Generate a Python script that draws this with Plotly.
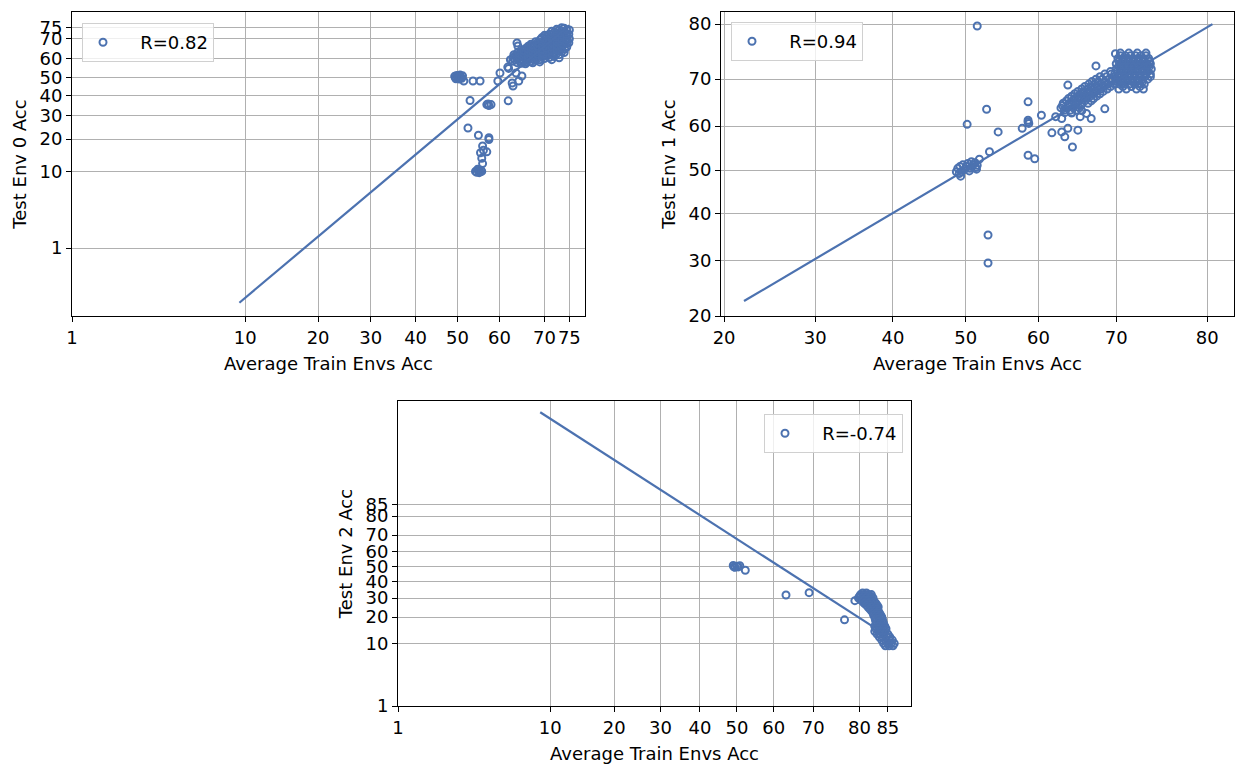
import plotly.graph_objects as go
from statistics import NormalDist

# ---------------- data (percent values) ----------------
# Test Env 0 : (average train envs acc, test env 0 acc)
env0_pts = [
    (49.3, 50.5), (49.6, 49.2), (49.8, 51.0), (50.0, 49.8), (50.2, 50.6), (50.4, 49.0),
    (50.6, 51.2), (50.8, 50.0), (51.0, 49.5), (51.2, 50.8), (49.5, 49.8), (50.5, 50.2),
    (51.5, 48.0), (53.7, 48.0), (55.4, 48.0), (53.0, 37.6), (57.0, 35.5), (57.5, 35.0),
    (58.0, 35.5), (57.3, 35.8), (62.0, 37.4), (52.5, 24.5), (55.0, 21.5), (57.5, 20.5),
    (57.5, 19.8), (56.0, 17.5), (56.2, 16.0), (55.8, 13.5), (56.0, 12.0), (57.0, 15.5),
    (55.5, 15.2), (54.3, 10.0), (54.6, 9.8), (55.0, 10.2), (55.3, 9.9), (55.6, 10.3),
    (54.8, 10.5), (55.2, 9.7), (55.8, 10.0), (60.1, 52.3), (59.6, 48.0), (61.9, 55.5),
    (62.1, 54.8), (62.9, 46.9), (63.1, 45.3), (63.8, 52.3), (64.4, 48.0), (65.1, 50.7),
    (64.0, 68.0), (64.2, 66.5), (65.9, 57.3), (67.5, 57.8), (69.0, 58.3), (71.5, 59.5),
    (73.0, 60.5), (62.5, 59.5),
    (63.0, 58.6), (63.1, 60.4), (63.3, 62.1),
    (64.0, 57.9), (64.1, 60.1), (63.9, 61.8), (64.2, 63.4),
    (65.0, 57.6), (65.1, 59.4), (64.9, 61.5), (65.2, 63.1), (65.0, 64.6),
    (66.0, 58.1), (66.1, 60.0), (65.9, 62.0), (66.2, 63.9), (66.0, 65.4),
    (67.0, 58.4), (67.1, 60.6), (66.9, 62.4), (67.2, 64.6), (67.0, 66.1), (67.1, 67.4),
    (68.0, 59.1), (68.1, 61.0), (67.9, 63.1), (68.2, 65.0), (68.0, 67.1), (68.1, 68.6),
    (69.0, 59.4), (69.1, 61.6), (68.9, 63.4), (69.2, 65.6), (69.0, 67.4), (69.1, 69.6),
    (70.0, 60.1), (70.1, 62.0), (69.9, 64.1), (70.2, 66.0), (70.0, 68.1), (70.1, 70.0), (70.0, 71.6),
    (71.0, 60.6), (71.1, 62.6), (70.9, 64.4), (71.2, 66.6), (71.0, 68.4), (71.1, 70.6), (71.0, 72.1),
    (72.0, 61.1), (72.1, 63.0), (71.9, 65.1), (72.2, 67.0), (72.0, 69.1), (72.1, 71.0), (72.0, 73.1),
    (73.0, 62.1), (73.1, 64.0), (72.9, 66.1), (73.2, 68.0), (73.0, 70.1), (73.1, 72.0), (73.0, 74.1),
    (74.0, 63.2), (74.1, 65.0), (73.9, 67.1), (74.2, 69.0), (74.0, 71.1), (74.1, 73.0), (74.0, 74.8),
    (74.9, 68.1), (75.0, 70.0), (74.9, 72.1), (75.0, 74.0),
    (63.5, 59.5), (63.5, 61.3),
    (64.5, 58.8), (64.5, 61.0), (64.5, 62.6),
    (65.5, 58.5), (65.5, 60.7), (65.5, 62.6), (65.5, 64.2),
    (66.5, 59.2), (66.5, 61.2), (66.5, 63.2), (66.5, 65.0), (66.5, 66.4),
    (67.5, 59.6), (67.5, 61.6), (67.5, 63.6), (67.5, 65.6), (67.5, 67.0),
    (68.5, 60.1), (68.5, 62.2), (68.5, 64.2), (68.5, 66.2), (68.5, 68.1),
    (69.5, 60.8), (69.5, 62.8), (69.5, 64.8), (69.5, 66.7), (69.5, 68.6), (69.5, 70.6),
    (70.5, 61.3), (70.5, 63.3), (70.5, 65.3), (70.5, 67.3), (70.5, 69.3), (70.5, 71.3),
    (71.5, 62.0), (71.5, 64.0), (71.5, 66.0), (71.5, 68.0), (71.5, 70.0), (71.5, 72.0), (71.5, 73.5),
    (72.5, 62.6), (72.5, 64.6), (72.5, 66.6), (72.5, 68.6), (72.5, 70.6), (72.5, 72.6), (72.5, 74.3),
    (73.5, 63.6), (73.5, 65.6), (73.5, 67.6), (73.5, 69.6), (73.5, 71.6), (73.5, 73.6), (73.5, 75.0),
    (74.5, 66.0), (74.5, 68.0), (74.5, 70.0), (74.5, 72.0), (74.5, 74.0),
]

# Test Env 1
env1_pts = [
    (48.9, 50.4), (49.2, 50.8), (49.4, 49.6), (49.3, 48.6), (49.6, 51.2), (49.9, 50.2),
    (50.1, 50.9), (50.3, 51.5), (50.6, 50.4), (50.8, 51.9), (51.0, 51.2), (51.3, 51.7),
    (51.5, 50.2), (51.9, 52.5), (48.7, 49.6), (49.1, 49.2), (50.5, 49.8), (50.9, 50.8),
    (51.4, 50.6), (51.6, 51.1), (53.3, 54.2),
    (51.6, 79.7), (50.2, 60.4), (52.9, 63.7), (54.5, 58.7), (53.1, 35.4), (53.1, 29.6),
    (58.6, 65.3), (58.6, 61.3), (58.6, 60.9), (58.7, 60.6), (57.8, 59.5), (60.4, 62.4),
    (58.6, 53.4), (59.5, 52.6), (61.8, 58.5), (63.1, 58.7), (63.5, 57.6), (63.9, 59.5),
    (65.2, 59.1), (64.5, 55.3), (62.3, 62.1), (63.1, 61.7), (64.4, 62.9), (65.5, 62.1),
    (65.7, 63.4), (66.3, 62.8), (66.9, 61.7), (63.9, 68.8), (67.5, 72.6), (69.9, 74.9),
    (68.6, 63.8),
    (69.3, 71.5),
    (68.6, 71.0), (69.4, 71.0),
    (67.5, 70.0), (68.3, 70.0), (69.1, 70.0),
    (66.6, 69.0), (67.4, 69.0), (68.2, 69.0), (69.0, 69.0),
    (65.7, 68.0), (66.5, 68.0), (67.3, 68.0), (68.1, 68.0), (68.9, 68.0),
    (64.8, 67.0), (65.6, 67.0), (66.4, 67.0), (67.2, 67.0), (68.0, 67.0),
    (64.0, 66.0), (64.8, 66.0), (65.6, 66.0), (66.4, 66.0), (67.2, 66.0),
    (63.3, 65.0), (64.1, 65.0), (64.9, 65.0), (65.7, 65.0), (66.5, 65.0),
    (63.0, 64.0), (63.8, 64.0), (64.6, 64.0), (65.4, 64.0),
    (63.5, 63.0), (64.4, 63.0),
    (68.0, 70.5), (68.8, 70.5),
    (67.0, 69.5), (67.8, 69.5), (68.6, 69.5), (69.4, 69.5),
    (66.1, 68.5), (66.9, 68.5), (67.7, 68.5), (68.5, 68.5), (69.3, 68.5),
    (65.2, 67.5), (66.0, 67.5), (66.8, 67.5), (67.6, 67.5), (68.4, 67.5),
    (64.4, 66.5), (65.2, 66.5), (66.0, 66.5), (66.8, 66.5), (67.6, 66.5),
    (63.7, 65.5), (64.5, 65.5), (65.3, 65.5), (66.1, 65.5), (66.9, 65.5),
    (63.2, 64.5), (64.0, 64.5), (64.8, 64.5), (65.6, 64.5),
    (63.4, 63.5), (64.2, 63.5), (65.0, 63.5),
    (70.5, 75.0), (71.5, 75.0), (72.5, 75.0), (73.5, 75.0),
    (70.2, 74.0), (70.8, 74.0), (71.4, 74.0), (72.0, 74.0), (72.6, 74.0), (73.2, 74.0), (73.8, 74.0),
    (70.0, 73.0), (70.6, 73.0), (71.2, 73.0), (71.8, 73.0), (72.4, 73.0), (73.0, 73.0), (73.6, 73.0), (74.0, 73.0),
    (70.0, 72.0), (70.6, 72.0), (71.2, 72.0), (71.8, 72.0), (72.4, 72.0), (73.0, 72.0), (73.6, 72.0), (74.1, 72.0),
    (69.8, 71.0), (70.4, 71.0), (71.0, 71.0), (71.6, 71.0), (72.2, 71.0), (72.8, 71.0), (73.4, 71.0), (74.0, 71.0),
    (69.5, 70.0), (70.1, 70.0), (70.7, 70.0), (71.3, 70.0), (71.9, 70.0), (72.5, 70.0), (73.1, 70.0), (73.7, 70.0),
    (69.8, 69.0), (70.4, 69.0), (71.0, 69.0), (71.6, 69.0), (72.2, 69.0), (72.8, 69.0), (73.3, 69.0),
    (70.3, 68.0), (71.2, 68.0), (72.4, 68.0), (73.2, 68.0),
    (70.5, 74.5), (71.1, 74.5), (71.7, 74.5), (72.3, 74.5), (72.9, 74.5), (73.5, 74.5),
    (70.3, 73.5), (70.9, 73.5), (71.5, 73.5), (72.1, 73.5), (72.7, 73.5), (73.3, 73.5), (73.9, 73.5),
    (70.3, 72.5), (70.9, 72.5), (71.5, 72.5), (72.1, 72.5), (72.7, 72.5), (73.3, 72.5), (73.9, 72.5),
    (70.1, 71.5), (70.7, 71.5), (71.3, 71.5), (71.9, 71.5), (72.5, 71.5), (73.1, 71.5), (73.7, 71.5),
    (69.8, 70.5), (70.4, 70.5), (71.0, 70.5), (71.6, 70.5), (72.2, 70.5), (72.8, 70.5), (73.4, 70.5), (74.0, 70.5),
    (70.1, 69.5), (70.7, 69.5), (71.3, 69.5), (71.9, 69.5), (72.5, 69.5), (73.1, 69.5),
    (70.8, 68.5), (71.8, 68.5), (72.8, 68.5),
]

# Test Env 2
env2_pts = [
    (49.0, 50.7), (49.5, 49.5), (50.0, 50.3), (50.4, 49.8), (50.8, 50.6), (49.2, 49.8),
    (52.3, 47.6), (63.2, 31.8), (69.0, 33.2), (77.0, 18.7), (79.1, 28.5),
    (80.6, 33.0), (81.3, 33.0),
    (80.2, 32.0), (80.9, 32.0), (81.6, 32.0), (82.2, 32.0),
    (80.0, 31.0), (80.7, 31.0), (81.4, 31.0), (82.1, 31.0),
    (79.8, 30.0), (80.5, 30.0), (81.2, 30.0), (81.9, 30.0), (82.5, 30.0),
    (80.2, 29.0), (80.9, 29.0), (81.6, 29.0), (82.3, 29.0),
    (80.6, 28.0), (81.3, 28.0), (82.0, 28.0), (82.7, 28.0),
    (80.9, 27.0), (81.6, 27.0), (82.3, 27.0), (83.0, 27.0),
    (81.3, 26.0), (82.0, 26.0), (82.7, 26.0), (83.2, 26.0),
    (81.6, 25.0), (82.3, 25.0), (83.0, 25.0), (83.4, 25.0),
    (81.9, 24.0), (82.6, 24.0), (83.2, 24.0),
    (82.2, 23.0), (82.8, 23.0), (83.4, 23.0),
    (82.5, 22.0), (83.1, 22.0), (83.6, 22.0),
    (82.6, 21.0), (83.2, 21.0), (83.8, 21.0),
    (82.8, 20.0), (83.4, 20.0), (84.0, 20.0),
    (82.9, 19.0), (83.5, 19.0), (84.1, 19.0),
    (83.0, 18.0), (83.6, 18.0), (84.2, 18.0),
    (83.1, 17.0), (83.7, 17.0), (84.3, 17.0),
    (82.8, 16.0), (83.4, 16.0), (84.0, 16.0), (84.5, 16.0),
    (83.0, 15.0), (83.6, 15.0), (84.2, 15.0), (84.7, 15.0),
    (82.8, 14.0), (83.4, 14.0), (84.0, 14.0), (84.6, 14.0),
    (83.2, 13.0), (83.8, 13.0), (84.4, 13.0), (85.0, 13.0),
    (83.6, 12.0), (84.2, 12.0), (84.8, 12.0), (85.3, 12.0),
    (84.0, 11.0), (84.6, 11.0), (85.2, 11.0), (85.7, 11.0),
    (84.3, 10.0), (84.9, 10.0), (85.5, 10.0), (86.0, 10.0),
    (84.6, 9.3), (85.2, 9.3), (85.8, 9.3),
]

# regression lines (train acc, test acc) at the two ends
env0_fit_train = [9.4, 75.0]
env0_fit_test = [0.107, 76.0]
env1_fit_train = [22.0, 80.5]
env1_fit_test = [22.5, 80.0]
env2_fit_train = [8.85, 82.7]
env2_fit_test = [99.5, 15.5]

labels = ["R=0.82", "R=0.94", "R=-0.74"]
y_titles = ["Test Env 0 Acc", "Test Env 1 Acc", "Test Env 2 Acc"]
x_title = "Average Train Envs Acc"

env0_ticks = [1, 10, 20, 30, 40, 50, 60, 70, 75]
env1_ticks = [20, 30, 40, 50, 60, 70, 80]
env2_ticks = [1, 10, 20, 30, 40, 50, 60, 70, 80, 85]

env0_xlim, env0_ylim = [1.0, 77.9], [0.0575, 81.3]
env1_xlim, env1_ylim = [19.7, 82.5], [20.0, 81.9]
env2_xlim, env2_ylim = [1.0, 88.4], [1.0, 99.714]

# ---------------- figure ----------------
nd = NormalDist()


def pr(v):
    return nd.inv_cdf(v / 100.0)


BLUE = "#4c72b0"
FONT = "DejaVu Sans"
FS = 18
W, H = 1236, 764

panels = [
    dict(pts=env0_pts, fx=env0_fit_train, fy=env0_fit_test, ticks=env0_ticks,
         xlim=env0_xlim, ylim=env0_ylim, box=(72, 585, 12, 316),
         leg=dict(x=82 / W, y=1 - 23 / H, xanchor="left")),
    dict(pts=env1_pts, fx=env1_fit_train, fy=env1_fit_test, ticks=env1_ticks,
         xlim=env1_xlim, ylim=env1_ylim, box=(721, 1234, 12, 316),
         leg=dict(x=731 / W, y=1 - 22 / H, xanchor="left")),
    dict(pts=env2_pts, fx=env2_fit_train, fy=env2_fit_test, ticks=env2_ticks,
         xlim=env2_xlim, ylim=env2_ylim, box=(398, 911, 401, 706),
         leg=dict(x=903 / W, y=1 - 414 / H, xanchor="right")),
]

fig = go.Figure()
layout = dict(
    width=W, height=H, margin=dict(l=0, r=0, t=0, b=0),
    paper_bgcolor="white", plot_bgcolor="white",
    font=dict(family=FONT, size=FS, color="black"),
    showlegend=True,
)

for i, p in enumerate(panels):
    n = "" if i == 0 else str(i + 1)
    legname = "legend" if i == 0 else "legend" + str(i + 1)
    xs = [pr(a) for a, b in p["pts"]]
    ys = [pr(b) for a, b in p["pts"]]
    fig.add_trace(go.Scatter(
        x=xs, y=ys, mode="markers", xaxis="x" + n, yaxis="y" + n,
        name="\u00a0\u00a0\u00a0" + labels[i], legend=legname,
        marker=dict(symbol="circle-open", size=7, color=BLUE, line=dict(width=2.0)),
    ))
    fig.add_trace(go.Scatter(
        x=[pr(v) for v in p["fx"]], y=[pr(v) for v in p["fy"]], mode="lines",
        xaxis="x" + n, yaxis="y" + n, showlegend=False, hoverinfo="skip",
        line=dict(color=BLUE, width=2.2),
    ))
    x0, x1, y0, y1 = p["box"]
    common = dict(
        showgrid=True, gridcolor="#b0b0b0", gridwidth=1, zeroline=False,
        showline=True, linecolor="black", linewidth=1, mirror=True,
        ticks="outside", ticklen=5, tickwidth=1, tickcolor="black",
        tickfont=dict(family=FONT, size=FS, color="black"),
        tickvals=[pr(t) for t in p["ticks"]], ticktext=[str(t) for t in p["ticks"]],
        tickangle=0, automargin=False,
    )
    layout["xaxis" + n] = dict(
        common, domain=[x0 / W, x1 / W], anchor="y" + n,
        range=[pr(p["xlim"][0]), pr(p["xlim"][1])],
        title=dict(text=x_title, font=dict(family=FONT, size=FS, color="black"), standoff=10),
    )
    layout["yaxis" + n] = dict(
        common, domain=[1 - y1 / H, 1 - y0 / H], anchor="x" + n,
        range=[pr(p["ylim"][0]), pr(p["ylim"][1])],
        title=dict(text=y_titles[i], font=dict(family=FONT, size=FS, color="black"), standoff=8),
    )
    layout[legname] = dict(
        p["leg"], yanchor="top", bgcolor="rgba(255,255,255,0.8)",
        bordercolor="#d0d0d0", borderwidth=1,
        font=dict(family=FONT, size=FS, color="black"),
    )

fig.update_layout(**layout)
fig.write_html("out.html")
